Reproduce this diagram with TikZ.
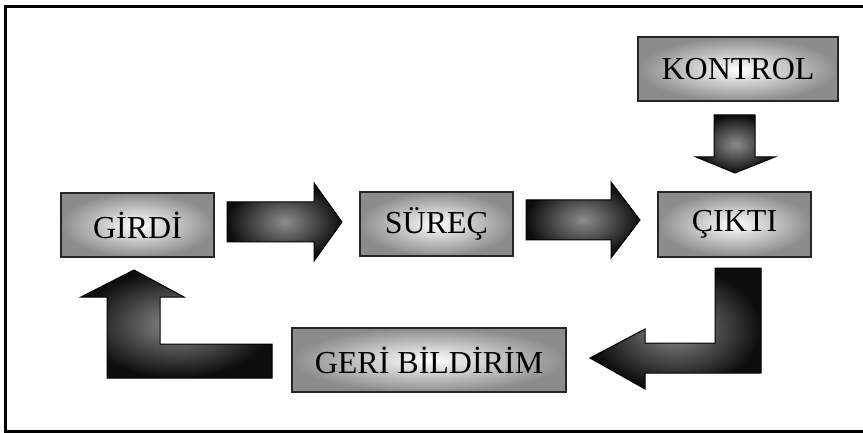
\documentclass[tikz,border=0pt]{standalone}
\usepackage{fontspec}
\setmainfont{Liberation Serif}

\tikzset{
  box/.style={draw=black!85, line width=1pt, inner color=white, outer color=black!45,
    minimum height=32pt, font=\fontsize{16}{19}\selectfont},
  blockarrow/.style={draw=black, line width=0.5pt, inner color=black!45, outer color=black!95}
}

\begin{document}
\begin{tikzpicture}[x=0.5pt, y=-0.5pt]
  \useasboundingbox (0, 0) rectangle (863, 433);
  \draw[line width=1.5pt] (863, 7) -- (5, 7) -- (5, 431.5) -- (863, 431.5);

  \node[box, minimum width=100pt] (kontrol) at (738, 69.5) {KONTROL};

  \node[box, minimum width=76.5pt] (girdi) at (137.5, 225) {GİRDİ};
  \node[box, minimum width=76.5pt] (surec) at (436.5, 224) {SÜREÇ};
  \node[box, minimum width=76.5pt] (cikti) at (734.5, 224.5) {ÇIKTI};

  \node[box, minimum width=137pt] (geri) at (429, 360) {GERİ BİLDİRİM};

  % girdi -> surec
  \path[blockarrow] (227, 202) -- (314, 202) -- (314, 183) -- (342, 222)
    -- (314, 261) -- (314, 242) -- (227, 242) -- cycle;
  % surec -> cikti
  \path[blockarrow] (526, 200) -- (611, 200) -- (611, 182) -- (640, 220)
    -- (611, 258) -- (611, 240) -- (526, 240) -- cycle;
  % kontrol -> cikti
  \path[blockarrow] (714, 115) -- (755, 115) -- (755, 157) -- (775, 157)
    -- (735, 173) -- (696, 157) -- (714, 157) -- cycle;
  % cikti -> geri
  \path[blockarrow] (715, 268) -- (761, 268) -- (761, 373) -- (645, 373)
    -- (645, 389) -- (590, 358) -- (645, 329) -- (645, 343) -- (715, 343) -- cycle;
  % geri -> girdi
  \path[blockarrow] (272, 344) -- (272, 378) -- (107, 378) -- (107, 297)
    -- (81, 297) -- (134, 270) -- (184, 297) -- (160, 297) -- (160, 344) -- cycle;
\end{tikzpicture}
\end{document}
